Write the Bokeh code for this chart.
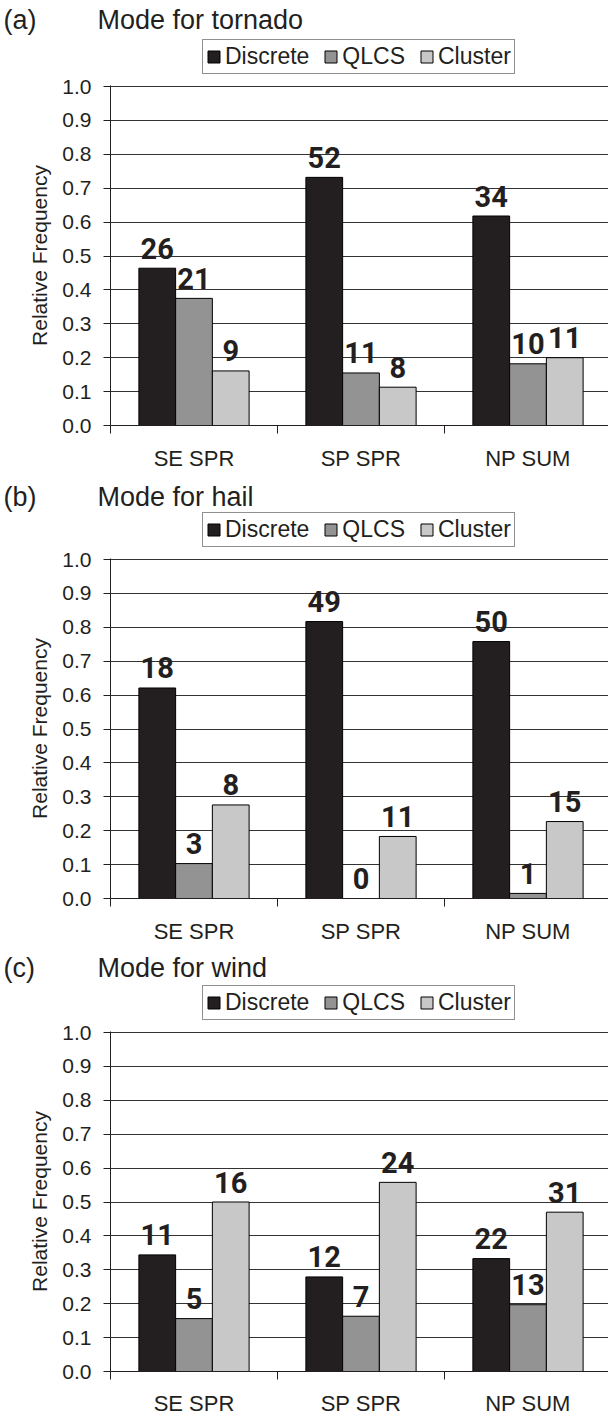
from bokeh.plotting import figure
from bokeh.models import (Range1d, FixedTicker, Legend, LegendItem,
                          ColumnDataSource, NumeralTickFormatter)
from bokeh.layouts import column
from bokeh.embed import file_html
from bokeh.resources import INLINE
from bokeh.core.properties import value

# ---------------- data ----------------
regions = ["SE SPR", "SP SPR", "NP SUM"]
modes = ["Discrete", "QLCS", "Cluster"]
y_tick_values = [0.0, 0.1, 0.2, 0.3, 0.4, 0.5, 0.6, 0.7, 0.8, 0.9, 1.0]

panel_letters = ["(a)", "(b)", "(c)"]
panel_titles = ["Mode for tornado", "Mode for hail", "Mode for wind"]

tornado_discrete = [0.464, 0.732, 0.618]
tornado_qlcs = [0.375, 0.155, 0.182]
tornado_cluster = [0.161, 0.113, 0.200]
tornado_discrete_n = [26, 52, 34]
tornado_qlcs_n = [21, 11, 10]
tornado_cluster_n = [9, 8, 11]

hail_discrete = [0.621, 0.817, 0.758]
hail_qlcs = [0.103, 0.000, 0.015]
hail_cluster = [0.276, 0.183, 0.227]
hail_discrete_n = [18, 49, 50]
hail_qlcs_n = [3, 0, 1]
hail_cluster_n = [8, 11, 15]

wind_discrete = [0.344, 0.279, 0.333]
wind_qlcs = [0.156, 0.163, 0.197]
wind_cluster = [0.500, 0.558, 0.470]
wind_discrete_n = [11, 12, 22]
wind_qlcs_n = [5, 7, 13]
wind_cluster_n = [16, 24, 31]

# ---------------- style / layout ----------------
mode_colors = ["#231f20", "#939393", "#c8c8c8"]
INK = "#231f20"
FONT = "Liberation Sans"
LABEL_FONT = "Roboto"
W = 608
LEFT = 110
head_heights = [75, 72, 72]
title_ys = [56, 52, 54]
TOP = 10
FRAME_H = 340
CAT_PX = 167
Y_END = 1.003
bottoms = [51, 51, 48]
x_label_standoff = [12, 12, 11]
BAR_W = 0.22
offsets = [-0.22, 0.0, 0.22]
LABEL_GAP_PX = 20

series = [
    ([tornado_discrete, tornado_qlcs, tornado_cluster],
     [tornado_discrete_n, tornado_qlcs_n, tornado_cluster_n]),
    ([hail_discrete, hail_qlcs, hail_cluster],
     [hail_discrete_n, hail_qlcs_n, hail_cluster_n]),
    ([wind_discrete, wind_qlcs, wind_cluster],
     [wind_discrete_n, wind_qlcs_n, wind_cluster_n]),
]

x_end = (W - LEFT) / CAT_PX
px_per_y = FRAME_H / Y_END


def make_header(idx):
    hh = head_heights[idx]
    h = figure(width=W, height=hh, x_range=Range1d(0, W),
               y_range=Range1d(0, hh), output_backend="svg",
               toolbar_location=None, min_border=0,
               x_axis_location=None, y_axis_location=None,
               frame_align=False)
    h.grid.visible = False
    h.outline_line_color = None
    h.text(x=[3], y=[title_ys[idx]], text=[panel_letters[idx]],
           text_font=value(FONT), text_font_size="27px",
           text_baseline="middle", text_align="left", text_color=INK)
    h.text(x=[97], y=[title_ys[idx]], text=[panel_titles[idx]],
           text_font=value(FONT), text_font_size="27px",
           text_baseline="middle", text_align="left", text_color=INK)
    rs = []
    for k in range(3):
        # legend swatch only: a NaN bar draws nothing in the plot area
        src = ColumnDataSource(dict(x=[float("nan")], top=[float("nan")]))
        rs.append(h.vbar(x="x", top="top", width=1, source=src,
                         fill_color=mode_colors[k], line_color="#000000",
                         line_width=1))
    legend = Legend(items=[LegendItem(label=modes[k], renderers=[rs[k]])
                           for k in range(3)],
                    orientation="horizontal",
                    location=(202, 1),
                    label_text_font=FONT, label_text_font_size="23px",
                    label_text_color=INK,
                    glyph_width=15, glyph_height=15, label_standoff=4,
                    spacing=14, padding=3, margin=0,
                    border_line_color=INK, border_line_width=1,
                    background_fill_color="white", background_fill_alpha=1)
    h.add_layout(legend)
    return h


def make_chart(idx):
    B = bottoms[idx]
    H = TOP + FRAME_H + B
    p = figure(width=W, height=H, x_range=Range1d(0, x_end),
               y_range=Range1d(0, Y_END), output_backend="svg",
               toolbar_location=None, min_border_left=LEFT,
               min_border_right=0, min_border_top=TOP,
               min_border_bottom=B, frame_align=False)
    p.outline_line_color = None

    vals, counts = series[idx]
    for k in range(3):
        xs = [i + 0.5 + offsets[k] for i in range(len(regions))]
        src = ColumnDataSource(dict(
            x=xs, top=vals[k],
            ly=[v + LABEL_GAP_PX / px_per_y for v in vals[k]],
            lab=[str(c) for c in counts[k]]))
        p.vbar(x="x", top="top", width=BAR_W, bottom=0, source=src,
               fill_color=mode_colors[k], line_color="#000000",
               line_width=1)
        p.text(x="x", y="ly", text="lab", source=src,
               text_align="center", text_baseline="alphabetic",
               text_font=value(LABEL_FONT), text_font_style="bold",
               text_font_size="29px", text_color=INK)

    yax = p.yaxis[0]
    yax.ticker = FixedTicker(ticks=y_tick_values)
    yax.formatter = NumeralTickFormatter(format="0.0")
    yax.major_tick_out = 7
    yax.major_tick_in = 0
    yax.minor_tick_line_color = None
    yax.major_label_standoff = 12
    yax.major_label_text_font = FONT
    yax.major_label_text_font_size = "21px"
    yax.major_label_text_color = INK
    yax.axis_label = "Relative Frequency"
    yax.axis_label_text_font = FONT
    yax.axis_label_text_font_size = "21px"
    yax.axis_label_text_font_style = "normal"
    yax.axis_label_text_color = INK
    yax.axis_label_standoff = 8
    yax.axis_line_color = INK
    yax.major_tick_line_color = INK

    xax = p.xaxis[0]
    xax.ticker = FixedTicker(ticks=[i + 0.5 for i in range(len(regions))],
                             minor_ticks=list(range(len(regions) + 1)))
    xax.major_label_overrides = {i + 0.5: regions[i] for i in range(len(regions))}
    xax.major_tick_out = 0
    xax.major_tick_in = 0
    xax.major_tick_line_color = None
    xax.minor_tick_out = 8
    xax.minor_tick_in = 0
    xax.minor_tick_line_color = INK
    xax.major_label_standoff = x_label_standoff[idx]
    xax.major_label_text_font = FONT
    xax.major_label_text_font_size = "22px"
    xax.major_label_text_color = INK
    xax.axis_line_color = INK

    p.xgrid.visible = False
    p.ygrid.ticker = FixedTicker(ticks=y_tick_values)
    p.ygrid.grid_line_color = "#333333"
    p.ygrid.grid_line_width = 1
    return p


parts = []
for i in range(3):
    parts.append(make_header(i))
    parts.append(make_chart(i))

layout = column(*parts, spacing=0)
open("out.html", "w").write(file_html(layout, INLINE))
